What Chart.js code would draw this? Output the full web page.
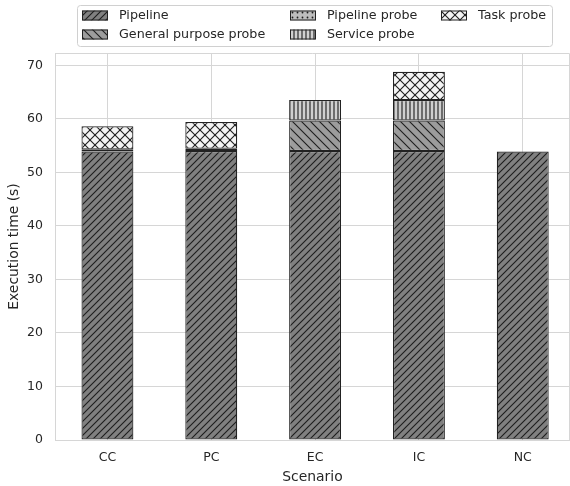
<!DOCTYPE html>
<html>
<head>
<meta charset="utf-8">
<script src="https://cdn.jsdelivr.net/npm/chart.js@4"></script>
<style>
  html, body { margin: 0; padding: 0; background: #fff; }
  #wrap { width: 570px; height: 486px; }
</style>
</head>
<body>
<div id="wrap"><canvas id="chart" width="570" height="486"></canvas></div>
<script>
// Execution time per scenario, stacked by component

const categories = ["CC", "PC", "EC", "IC", "NC"];
const pipeline = [53.9, 54.0, 54.0, 54.0, 53.9];
const generalPurposeProbe = [0, 0, 5.7, 5.7, 0];
const pipelineProbe = [0.4, 0.4, 0, 0, 0];
const serviceProbe = [0, 0, 3.8, 3.8, 0];
const taskProbe = [4.3, 5.0, 0, 5.3, 0];
const yTicks = [0, 10, 20, 30, 40, 50, 60, 70];

const FONT = "'DejaVu Sans', sans-serif";
const TEXT = "#262626";
const GRID = "#d6d6d6";
const EDGE = "#222222";
const HATCH = "#1c1c1c";

// small pattern tiles, like matplotlib hatches
function makePattern(kind, fill, size) {
  const c = document.createElement("canvas");
  c.width = size;
  c.height = size;
  const g = c.getContext("2d");
  g.fillStyle = fill;
  g.fillRect(0, 0, size, size);
  g.strokeStyle = HATCH;
  g.fillStyle = HATCH;
  g.lineWidth = 1.1;
  const s = size;
  const line = (x1, y1, x2, y2) => {
    g.beginPath();
    g.moveTo(x1, y1);
    g.lineTo(x2, y2);
    g.stroke();
  };
  if (kind === "fwd") {
    line(-s, s, s, -s);
    line(0, s, s, 0);
    line(0, 2 * s, 2 * s, 0);
  } else if (kind === "back") {
    line(0, 0, s, s);
    line(-s, 0, s, 2 * s);
    line(0, -s, 2 * s, s);
  } else if (kind === "cross") {
    line(0, s, s, 0);
    line(-s, s, s, -s);
    line(0, 2 * s, 2 * s, 0);
    line(0, 0, s, s);
    line(-s, 0, s, 2 * s);
    line(0, -s, 2 * s, s);
  } else if (kind === "vert") {
    g.lineWidth = 1.1;
    line(s / 2, 0, s / 2, s);
  } else if (kind === "dots") {
    g.beginPath();
    g.arc(s / 2, s / 2, 0.9, 0, Math.PI * 2);
    g.fill();
  }
  return document.getElementById("chart").getContext("2d").createPattern(c, "repeat");
}

const series = [
  { label: "Pipeline", values: pipeline, pattern: makePattern("fwd", "#808080", 7) },
  { label: "General purpose probe", values: generalPurposeProbe, pattern: makePattern("back", "#9c9c9c", 9) },
  { label: "Pipeline probe", values: pipelineProbe, pattern: makePattern("dots", "#bdbdbd", 5) },
  { label: "Service probe", values: serviceProbe, pattern: makePattern("vert", "#cfcfcf", 4) },
  { label: "Task probe", values: taskProbe, pattern: makePattern("cross", "#f4f4f4", 10) },
];

const datasets = series.map((s) => ({
  label: s.label,
  data: s.values.map((v, i) => ({ x: i, y: v === 0 ? null : v })),
  backgroundColor: s.pattern,
  borderColor: EDGE,
  borderWidth: 1.2,
  borderSkipped: false,
  categoryPercentage: 1.0,
  barPercentage: 0.5,
}));

// legend laid out in columns, matplotlib style
const legendPlugin = {
  id: "columnLegend",
  afterDraw(chart) {
    const ctx = chart.ctx;
    ctx.save();
    ctx.fillStyle = "rgba(255,255,255,0.85)";
    ctx.strokeStyle = "#d0d0d0";
    ctx.lineWidth = 1;
    const bx = 77.5, by = 5.5, bw = 475, bh = 41;
    ctx.beginPath();
    ctx.roundRect(bx, by, bw, bh, 3);
    ctx.fill();
    ctx.stroke();
    const cols = [82, 290, 441];
    const rows = [15.5, 34.5];
    const slots = [[0, 0], [0, 1], [1, 0], [1, 1], [2, 0]];
    ctx.font = "12.7px " + FONT;
    ctx.textBaseline = "middle";
    series.forEach((s, i) => {
      const [c, r] = slots[i];
      const x = cols[c], y = rows[r];
      ctx.fillStyle = s.pattern;
      ctx.fillRect(x, y - 5, 26, 10);
      ctx.strokeStyle = EDGE;
      ctx.lineWidth = 1;
      ctx.strokeRect(x + 0.5, y - 4.5, 25, 9);
      ctx.fillStyle = TEXT;
      ctx.fillText(s.label, x + 37, y + 0.5);
    });
    ctx.restore();
  },
};

// top and right spines
const framePlugin = {
  id: "frame",
  afterDatasetsDraw(chart) {
    const { ctx, chartArea: a } = chart;
    ctx.save();
    ctx.strokeStyle = GRID;
    ctx.lineWidth = 1;
    ctx.beginPath();
    ctx.moveTo(a.left, a.top + 0.5);
    ctx.lineTo(a.right - 0.5, a.top + 0.5);
    ctx.lineTo(a.right - 0.5, a.bottom);
    ctx.stroke();
    ctx.restore();
  },
};

new Chart(document.getElementById("chart"), {
  type: "bar",
  data: { datasets },
  options: {
    responsive: false,
    animation: false,
    devicePixelRatio: 1,
    layout: { padding: { top: 53, right: 0, left: 0, bottom: 0 } },
    plugins: {
      legend: { display: false },
      tooltip: { enabled: false },
    },
    scales: {
      x: {
        type: "linear",
        stacked: true,
        offset: false,
        min: -0.505,
        max: 4.455,
        grid: { offset: false, color: GRID, lineWidth: 1, drawTicks: false },
        border: { color: GRID, width: 1 },
        ticks: {
          stepSize: 1,
          includeBounds: false,
          autoSkip: false,
          maxRotation: 0,
          padding: 10,
          color: TEXT,
          font: { family: FONT, size: 12.5 },
          callback: (v) => (Number.isInteger(v) ? categories[v] : ""),
        },
        title: {
          display: true,
          text: "Scenario",
          color: TEXT,
          font: { family: FONT, size: 13.9 },
          padding: { top: 1, bottom: 0 },
        },
        afterFit: (scale) => { scale.height = 46; },
      },
      y: {
        stacked: true,
        min: 0,
        max: 72.3,
        grid: { color: GRID, lineWidth: 1, drawTicks: false },
        border: { color: GRID, width: 1 },
        afterBuildTicks: (scale) => {
          scale.ticks = yTicks.map((v) => ({ value: v }));
        },
        ticks: {
          padding: 12,
          color: TEXT,
          font: { family: FONT, size: 12.5 },
        },
        title: {
          display: true,
          text: "Execution time (s)",
          color: TEXT,
          font: { family: FONT, size: 13.9 },
          padding: { top: 6, bottom: 4 },
        },
        afterFit: (scale) => { scale.width = 55; },
      },
    },
  },
  plugins: [legendPlugin, framePlugin],
});
</script>
</body>
</html>
